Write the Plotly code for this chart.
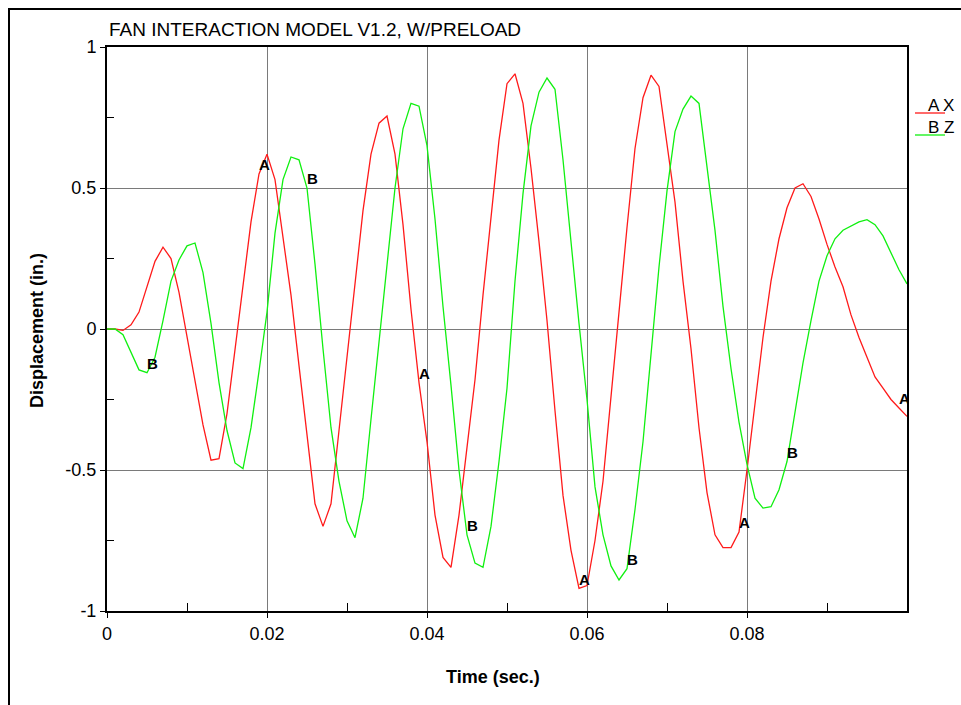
import plotly.graph_objects as go

# ---------------- data ----------------
time_s = [0.000, 0.001, 0.002, 0.003, 0.004, 0.005, 0.006, 0.007, 0.008, 0.009,
          0.010, 0.011, 0.012, 0.013, 0.014, 0.015, 0.016, 0.017, 0.018, 0.019,
          0.020, 0.021, 0.022, 0.023, 0.024, 0.025, 0.026, 0.027, 0.028, 0.029,
          0.030, 0.031, 0.032, 0.033, 0.034, 0.035, 0.036, 0.037, 0.038, 0.039,
          0.040, 0.041, 0.042, 0.043, 0.044, 0.045, 0.046, 0.047, 0.048, 0.049,
          0.050, 0.051, 0.052, 0.053, 0.054, 0.055, 0.056, 0.057, 0.058, 0.059,
          0.060, 0.061, 0.062, 0.063, 0.064, 0.065, 0.066, 0.067, 0.068, 0.069,
          0.070, 0.071, 0.072, 0.073, 0.074, 0.075, 0.076, 0.077, 0.078, 0.079,
          0.080, 0.081, 0.082, 0.083, 0.084, 0.085, 0.086, 0.087, 0.088, 0.089,
          0.090, 0.091, 0.092, 0.093, 0.094, 0.095, 0.096, 0.097, 0.098, 0.099,
          0.100]

disp_x = [0.0, 0.0, -0.005, 0.015, 0.06, 0.15, 0.24, 0.29, 0.25, 0.13,
          -0.03, -0.19, -0.34, -0.465, -0.46, -0.30, -0.07, 0.16, 0.38, 0.55,
          0.62, 0.53, 0.33, 0.12, -0.13, -0.38, -0.62, -0.70, -0.62, -0.36,
          -0.10, 0.17, 0.42, 0.62, 0.73, 0.755, 0.62, 0.37, 0.07, -0.19,
          -0.40, -0.66, -0.81, -0.845, -0.66, -0.42, -0.18, 0.12, 0.40, 0.67,
          0.87, 0.905, 0.80, 0.57, 0.31, 0.03, -0.29, -0.59, -0.785, -0.92,
          -0.91, -0.75, -0.54, -0.25, 0.06, 0.36, 0.64, 0.82, 0.90, 0.86,
          0.66, 0.45, 0.17, -0.07, -0.35, -0.58, -0.73, -0.775, -0.775, -0.72,
          -0.50, -0.27, -0.03, 0.17, 0.32, 0.43, 0.50, 0.515, 0.47, 0.39,
          0.30, 0.22, 0.15, 0.05, -0.03, -0.10, -0.17, -0.21, -0.25, -0.28,
          -0.31]

disp_z = [0.0, 0.0, -0.02, -0.08, -0.145, -0.155, -0.10, 0.03, 0.17, 0.245,
          0.295, 0.305, 0.20, 0.02, -0.19, -0.36, -0.475, -0.495, -0.35, -0.15,
          0.06, 0.34, 0.53, 0.61, 0.60, 0.50, 0.23, -0.07, -0.35, -0.54,
          -0.68, -0.74, -0.60, -0.32, -0.04, 0.24, 0.50, 0.71, 0.80, 0.79,
          0.65, 0.39, 0.08, -0.20, -0.50, -0.73, -0.83, -0.845, -0.70, -0.47,
          -0.21, 0.17, 0.48, 0.72, 0.84, 0.89, 0.85, 0.60, 0.30, 0.02,
          -0.25, -0.56, -0.73, -0.84, -0.89, -0.85, -0.64, -0.40, -0.09, 0.22,
          0.49, 0.70, 0.78, 0.826, 0.80, 0.57, 0.35, 0.08, -0.14, -0.33,
          -0.48, -0.60, -0.635, -0.63, -0.57, -0.47, -0.30, -0.12, 0.03, 0.17,
          0.26, 0.32, 0.35, 0.365, 0.38, 0.388, 0.37, 0.33, 0.27, 0.21,
          0.16]

series_names = ["X", "Z"]
series_tags = ["A", "B"]
tag_index_a = [19, 39, 59, 79, 99]
tag_index_b = [5, 25, 45, 65, 85]

x_tick_vals = [0, 0.02, 0.04, 0.06, 0.08]
x_tick_text = ["0", "0.02", "0.04", "0.06", "0.08"]
x_minor_vals = [0.01, 0.03, 0.05, 0.07, 0.09]
y_tick_vals = [-1, -0.5, 0, 0.5, 1]
y_tick_text = ["-1", "-0.5", "0", "0.5", "1"]
y_minor_vals = [-0.75, -0.25, 0.25, 0.75]

title_text = "FAN INTERACTION MODEL V1.2, W/PRELOAD"
x_title = "Time (sec.)"
y_title = "Displacement (in.)"

# ---------------- layout geometry ----------------
W, H = 961, 705
ML, MR, MT, MB = 107, 54, 47, 94
PW, PH = W - ML - MR, H - MT - MB


def px(xp):
    return (xp - ML) / PW


def py(yp):
    return (H - MB - yp) / PH


FONT = "Liberation Sans, Arial, Helvetica, sans-serif"
RED = "#ff1a1a"
GREEN = "#10f010"

fig = go.Figure()
fig.add_trace(go.Scatter(x=time_s, y=disp_x, mode="lines", name=series_names[0],
                         line=dict(color=RED, width=1.3), hoverinfo="skip"))
fig.add_trace(go.Scatter(x=time_s, y=disp_z, mode="lines", name=series_names[1],
                         line=dict(color=GREEN, width=1.3), hoverinfo="skip"))

for tag, idx, ys in ((series_tags[0], tag_index_a, disp_x), (series_tags[1], tag_index_b, disp_z)):
    fig.add_trace(go.Scatter(x=[time_s[i] for i in idx], y=[ys[i] for i in idx],
                             mode="text", text=[tag] * len(idx), textposition="top right",
                             textfont=dict(family=FONT, size=15, color="black", weight="bold"),
                             hoverinfo="skip"))

axis_common = dict(showline=True, linecolor="black", linewidth=2, mirror=True,
                   ticks="outside", ticklen=5, tickcolor="black", tickwidth=1,
                   showgrid=True, gridcolor="#7a7a7a", gridwidth=1.4,
                   zeroline=False, tickfont=dict(family=FONT, size=18, color="black"))

fig.update_xaxes(range=[0, 0.1], tickmode="array", tickvals=x_tick_vals, ticktext=x_tick_text,
                 minor=dict(tickmode="array", tickvals=x_minor_vals, ticks="inside",
                            ticklen=8, tickcolor="black", tickwidth=1, showgrid=False),
                 **axis_common)
fig.update_yaxes(range=[-1, 1], tickmode="array", tickvals=y_tick_vals, ticktext=y_tick_text,
                 minor=dict(tickmode="array", tickvals=y_minor_vals, ticks="inside",
                            ticklen=7, tickcolor="black", tickwidth=1, showgrid=False),
                 **axis_common)

annotations = [
    dict(text=title_text, xref="paper", yref="paper", x=px(107), y=py(30),
         xanchor="left", yanchor="middle", showarrow=False,
         font=dict(family=FONT, size=19, color="black")),
    dict(text=f"<b>{x_title}</b>", xref="paper", yref="paper", x=px(493), y=py(677),
         xanchor="center", yanchor="middle", showarrow=False,
         font=dict(family=FONT, size=18, color="black")),
    dict(text=f"<b>{y_title}</b>", xref="paper", yref="paper", x=px(37), y=py(331),
         xanchor="center", yanchor="middle", showarrow=False, textangle=-90,
         font=dict(family=FONT, size=18, color="black")),
]
legend_rows = [(106, RED), (128, GREEN)]
shapes = [
    dict(type="rect", xref="paper", yref="paper", x0=px(9), x1=px(975), y0=py(720), y1=py(9),
         line=dict(color="black", width=2), fillcolor="rgba(0,0,0,0)", layer="above"),
]
for k, (yc, col) in enumerate(legend_rows):
    annotations.append(dict(text=f"{series_tags[k]} {series_names[k]}", xref="paper", yref="paper",
                            x=px(926), y=py(yc), xanchor="left", yanchor="middle",
                            showarrow=False, font=dict(family=FONT, size=17, color="black")))
    shapes.append(dict(type="line", xref="paper", yref="paper", x0=px(915), x1=px(945),
                       y0=py(yc + 7), y1=py(yc + 7), line=dict(color=col, width=1.3)))

fig.update_layout(width=W, height=H, margin=dict(l=ML, r=MR, t=MT, b=MB),
                  paper_bgcolor="white", plot_bgcolor="white", showlegend=False,
                  annotations=annotations, shapes=shapes, hovermode=False)

fig.write_html("out.html")
